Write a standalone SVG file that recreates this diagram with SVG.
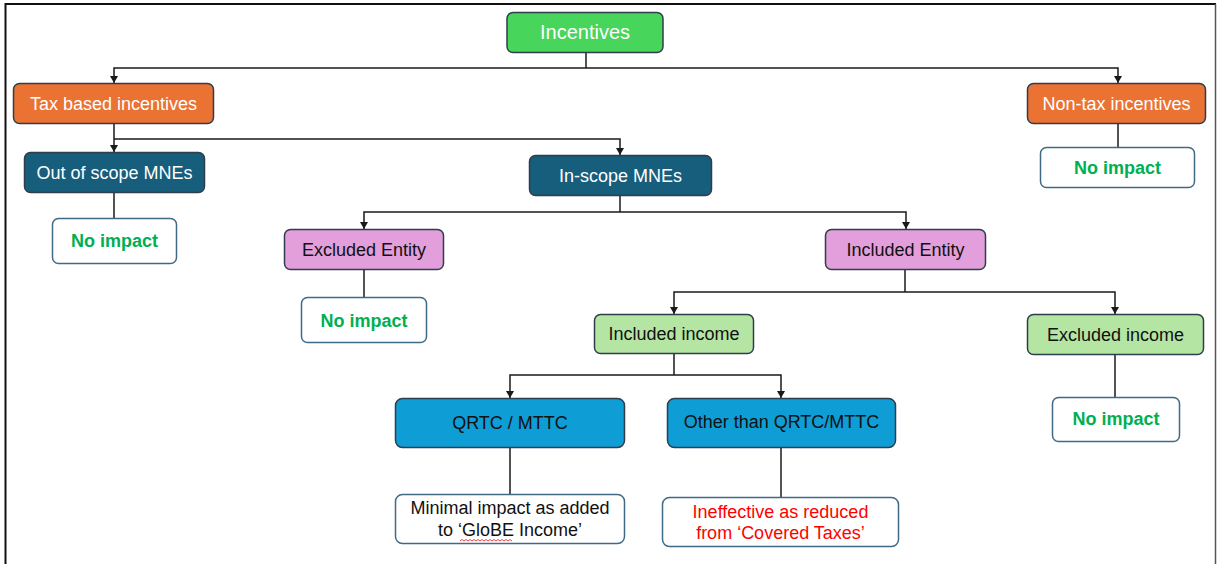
<svg xmlns="http://www.w3.org/2000/svg" width="1217" height="564" viewBox="0 0 1217 564">
  <defs>
    <marker id="arr" markerUnits="userSpaceOnUse" markerWidth="8" markerHeight="9" refX="7" refY="4" orient="auto">
      <path d="M0,0 L7,4 L0,8 Z" fill="#1a1a1a"/>
    </marker>
    <style>
      text { font-family: "Liberation Sans", Arial, sans-serif; font-size: 18px; text-anchor: middle; dominant-baseline: central; }
      .box { stroke: #2f3e4b; stroke-width: 1.5; }
      .white { fill: #ffffff; stroke: #3f6a86; stroke-width: 1.5; }
      .green { fill: #47d55b; }
      .orange { fill: #ea7232; }
      .teal { fill: #175d7c; }
      .pink { fill: #e29fdc; }
      .lgreen { fill: #b4e5a2; }
      .blue { fill: #0e9dd5; }
      .tw { fill: #ffffff; }
      .tb { fill: #111111; }
      .tg { fill: #00b050; font-weight: bold; }
      .tr { fill: #ff0000; }
      .conn path { fill: none; stroke: #1a1a1a; stroke-width: 1.5; }
      .conn path.a { marker-end: url(#arr); }
    </style>
  </defs>
  <rect x="0" y="0" width="1217" height="564" fill="#ffffff"/>
  <path d="M5.5,570 V4 H1216" fill="none" stroke="#111111" stroke-width="2"/>
  <path d="M1215.5,4 V570" fill="none" stroke="#555555" stroke-width="1.5"/>

  <g id="connectors" class="conn">
    <path d="M586,53 V68"/>
    <path class="a" d="M586,68 H114 V83"/>
    <path class="a" d="M586,68 H1118 V83"/>
    <path class="a" d="M114,124 V152"/>
    <path class="a" d="M114,139 H620 V155"/>
    <path d="M114,193 V218"/>
    <path d="M1118,124 V147"/>
    <path d="M620,196 V212"/>
    <path class="a" d="M620,212 H364 V229"/>
    <path class="a" d="M620,212 H906 V229"/>
    <path d="M364,270 V297"/>
    <path d="M905,270 V292"/>
    <path class="a" d="M905,292 H674 V314"/>
    <path class="a" d="M905,292 H1115 V314"/>
    <path d="M674,353 V375"/>
    <path class="a" d="M674,375 H510 V398"/>
    <path class="a" d="M674,375 H781 V398"/>
    <path d="M510,448 V494"/>
    <path d="M781,448 V497"/>
    <path d="M1115,355 V397"/>
  </g>

  <g id="incentives">
    <rect class="box green" x="507" y="12.5" width="156" height="40" rx="6"/>
    <text class="tw" x="585" y="32" style="font-size:20px">Incentives</text>
  </g>
  <g id="tax-based">
    <rect class="box orange" x="13.5" y="83.5" width="200" height="40" rx="6"/>
    <text class="tw" x="113.5" y="103.5">Tax based incentives</text>
  </g>
  <g id="non-tax">
    <rect class="box orange" x="1027.5" y="83.5" width="178" height="40" rx="6"/>
    <text class="tw" x="1116.5" y="103.5">Non-tax incentives</text>
  </g>
  <g id="non-tax-no-impact">
    <rect class="white" x="1040.5" y="147.5" width="154" height="40" rx="6"/>
    <text class="tg" x="1117.5" y="167.5">No impact</text>
  </g>
  <g id="out-of-scope">
    <rect class="box teal" x="24.5" y="152.5" width="180" height="40" rx="6"/>
    <text class="tw" x="114.5" y="172.5">Out of scope MNEs</text>
  </g>
  <g id="out-of-scope-no-impact">
    <rect class="white" x="52.5" y="218.5" width="124" height="45" rx="6"/>
    <text class="tg" x="114.5" y="240.5">No impact</text>
  </g>
  <g id="in-scope">
    <rect class="box teal" x="529.5" y="155.5" width="182" height="40" rx="6"/>
    <text class="tw" x="620.5" y="175.5">In-scope MNEs</text>
  </g>
  <g id="excluded-entity">
    <rect class="box pink" x="284.5" y="229.5" width="159" height="40" rx="6"/>
    <text class="tb" x="364" y="249.5">Excluded Entity</text>
  </g>
  <g id="excluded-entity-no-impact">
    <rect class="white" x="301.5" y="297.5" width="125" height="45" rx="6"/>
    <text class="tg" x="364" y="321">No impact</text>
  </g>
  <g id="included-entity">
    <rect class="box pink" x="825.5" y="229.5" width="160" height="40" rx="6"/>
    <text class="tb" x="905.5" y="249.5">Included Entity</text>
  </g>
  <g id="included-income">
    <rect class="box lgreen" x="594.5" y="314.5" width="159" height="39" rx="6"/>
    <text class="tb" x="674" y="334">Included income</text>
  </g>
  <g id="excluded-income">
    <rect class="box lgreen" x="1027.5" y="314.5" width="176" height="40" rx="6"/>
    <text class="tb" x="1115.5" y="334.5">Excluded income</text>
  </g>
  <g id="excluded-income-no-impact">
    <rect class="white" x="1052.5" y="397.5" width="127" height="44" rx="6"/>
    <text class="tg" x="1116" y="419">No impact</text>
  </g>
  <g id="qrtc-mttc">
    <rect class="box blue" x="395.5" y="398.5" width="229" height="49" rx="7"/>
    <text class="tb" x="510" y="423">QRTC / MTTC</text>
  </g>
  <g id="other-than-qrtc">
    <rect class="box blue" x="667.5" y="398.5" width="228" height="49" rx="7"/>
    <text class="tb" x="781.5" y="422">Other than QRTC/MTTC</text>
  </g>
  <g id="minimal-impact">
    <rect class="white" x="395.5" y="494.5" width="229" height="49" rx="7"/>
    <text class="tb" x="510" y="508">Minimal impact as added</text>
    <text class="tb" x="510" y="530">to ‘GloBE Income’</text>
    <path d="M460,541 l2,-1.5 l2,1.5 l2,-1.5 l2,1.5 l2,-1.5 l2,1.5 l2,-1.5 l2,1.5 l2,-1.5 l2,1.5 l2,-1.5 l2,1.5 l2,-1.5 l2,1.5 l2,-1.5 l2,1.5 l2,-1.5 l2,1.5 l2,-1.5 l2,1.5 l2,-1.5 l2,1.5 l2,-1.5 l2,1.5 l2,-1.5 l2,1.5" fill="none" stroke="#e03030" stroke-width="0.9"/>
  </g>
  <g id="ineffective">
    <rect class="white" x="662.5" y="497.5" width="236" height="49" rx="7"/>
    <text class="tr" x="780.5" y="511.5">Ineffective as reduced</text>
    <text class="tr" x="780.5" y="533">from ‘Covered Taxes’</text>
  </g>
</svg>
